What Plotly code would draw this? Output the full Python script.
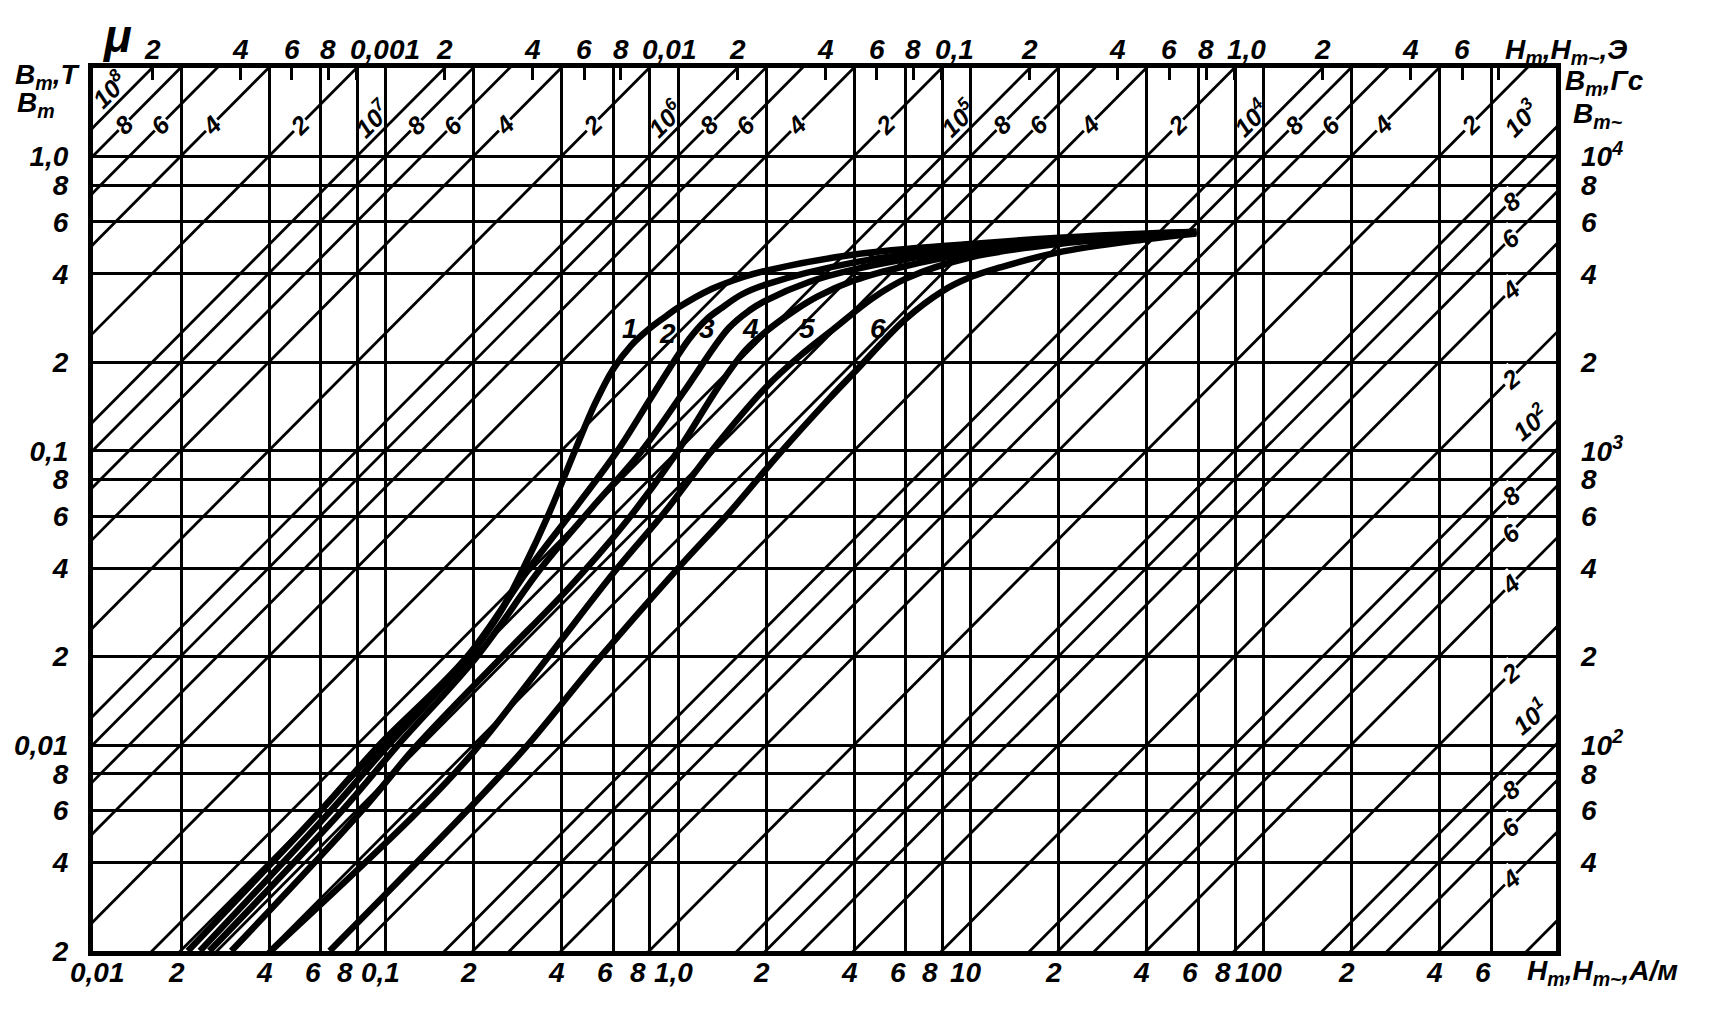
import math
import plotly.graph_objects as go

MU0 = 4e-7 * math.pi          # H/m
OE = 1000.0 / (4 * math.pi)   # A/m per oersted

# ---------------- axis ranges and grid ----------------
H_RANGE = [0.01, 1000]        # A/m
B_RANGE = [0.002, 2]          # T

H_GRID = [0.02, 0.04, 0.06, 0.08, 0.1, 0.2, 0.4, 0.6, 0.8, 1, 2, 4, 6, 8, 10,
          20, 40, 60, 80, 100, 200, 400, 600]
B_LEFT_TICKS = [0.002, 0.004, 0.006, 0.008, 0.01, 0.02, 0.04, 0.06, 0.08, 0.1,
                0.2, 0.4, 0.6, 0.8, 1.0]
B_LEFT_TEXT = ["2", "4", "6", "8", "0,01", "2", "4", "6", "8", "0,1",
               "2", "4", "6", "8", "1,0"]
GS_TICKS = [40, 60, 80, 100, 200, 400, 600, 800, 1000, 2000, 4000, 6000, 8000, 10000]
GS_TEXT = ["4", "6", "8", "10<sup>2</sup>", "2", "4", "6", "8", "10<sup>3</sup>",
           "2", "4", "6", "8", "10<sup>4</sup>"]
H_BOTTOM_TICKS = [0.01, 0.02, 0.04, 0.06, 0.08, 0.1, 0.2, 0.4, 0.6, 0.8, 1, 2, 4, 6, 8,
                  10, 20, 40, 60, 80, 100, 200, 400, 600]
H_BOTTOM_TEXT = ["0,01", "2", "4", "6", "8", "0,1", "2", "4", "6", "8", "1,0",
                 "2", "4", "6", "8", "10", "2", "4", "6", "8", "100", "2", "4", "6"]
OE_TICKS = [2e-4, 4e-4, 6e-4, 8e-4, 1e-3, 2e-3, 4e-3, 6e-3, 8e-3, 1e-2, 2e-2, 4e-2,
            6e-2, 8e-2, 0.1, 0.2, 0.4, 0.6, 0.8, 1, 2, 4, 6, 8]
OE_TEXT = ["2", "4", "6", "8", "0,001", "2", "4", "6", "8", "0,01", "2", "4",
           "6", "8", "0,1", "2", "4", "6", "8", "1,0", "2", "4", "6", ""]

# constant-permeability diagonals
MU_MANTISSAS = [2, 4, 6, 8, 10]
MU_DECADES = [1, 10, 100, 1e3, 1e4, 1e5, 1e6, 1e7]
TOP_MU = [1e8, 8e7, 6e7, 4e7, 2e7, 1e7, 8e6, 6e6, 4e6, 2e6, 1e6, 8e5, 6e5, 4e5, 2e5,
          1e5, 8e4, 6e4, 4e4, 2e4, 1e4, 8e3, 6e3, 4e3, 2e3, 1e3]
TOP_MU_TEXT = ["10<sup>8</sup>", "8", "6", "4", "2", "10<sup>7</sup>", "8", "6", "4", "2",
               "10<sup>6</sup>", "8", "6", "4", "2", "10<sup>5</sup>", "8", "6", "4", "2",
               "10<sup>4</sup>", "8", "6", "4", "2", "10<sup>3</sup>"]
RIGHT_MU = [800, 600, 400, 200, 100, 80, 60, 40, 20, 10, 8, 6, 4]
RIGHT_MU_TEXT = ["8", "6", "4", "2", "10<sup>2</sup>", "8", "6", "4", "2",
                 "10<sup>1</sup>", "8", "6", "4"]

# ---------------- magnetisation curves B_m(H_m) ----------------
H1 = [0.0232, 0.065, 0.102, 0.14, 0.193, 0.245, 0.296, 0.361, 0.447, 0.52, 0.60, 0.69,
      0.80, 0.9, 1.0, 1.3, 1.67, 2.0, 4.0, 10, 20, 40, 59]
B1 = [0.002, 0.006, 0.01, 0.014, 0.02, 0.028, 0.04, 0.061, 0.102, 0.145, 0.19, 0.228,
      0.261, 0.285, 0.307, 0.355, 0.39, 0.41, 0.465, 0.505, 0.53, 0.548, 0.555]
H2 = [0.0211, 0.060, 0.095, 0.19, 0.31, 0.45, 0.62, 0.829, 1.09, 1.25, 1.4, 1.647, 2.0,
      4.0, 10, 20, 40, 59]
B2 = [0.002, 0.006, 0.01, 0.02, 0.04, 0.065, 0.10, 0.158, 0.24, 0.28, 0.305, 0.34,
      0.368, 0.437, 0.495, 0.525, 0.545, 0.555]
H3 = [0.025, 0.071, 0.11, 0.205, 0.34, 0.50, 0.75, 1.05, 1.486, 1.75, 2.0, 2.8, 4.0,
      10, 20, 40, 59]
B3 = [0.002, 0.006, 0.01, 0.02, 0.04, 0.063, 0.10, 0.16, 0.261, 0.30, 0.325, 0.375,
      0.414, 0.485, 0.52, 0.543, 0.555]
H4 = [0.0297, 0.083, 0.128, 0.25, 0.42, 0.65, 0.95, 1.4, 1.7, 2.0, 2.5, 3.0, 4.0, 6.0,
      10, 20, 40, 59]
B4 = [0.002, 0.006, 0.01, 0.02, 0.034, 0.056, 0.093, 0.17, 0.22, 0.255, 0.30, 0.335,
      0.38, 0.425, 0.47, 0.515, 0.54, 0.555]
H5 = [0.0405, 0.13, 0.20, 0.36, 0.62, 0.90, 1.3, 2.0, 2.6, 3.42, 4.61, 6.0, 10, 20,
      40, 59]
B5 = [0.002, 0.006, 0.0095, 0.02, 0.04, 0.062, 0.10, 0.165, 0.21, 0.261, 0.33, 0.385,
      0.455, 0.505, 0.535, 0.553]
H6 = [0.0644, 0.19, 0.30, 0.52, 1.0, 1.5, 2.2, 3.27, 4.0, 5.97, 8.0, 9.9, 12.6, 19.7,
      39.8, 59]
B6 = [0.002, 0.006, 0.0098, 0.019, 0.04, 0.062, 0.097, 0.15, 0.185, 0.28, 0.349, 0.388,
      0.42, 0.472, 0.524, 0.548]
CURVES = [(H1, B1), (H2, B2), (H3, B3), (H4, B4), (H5, B5), (H6, B6)]
CURVE_NAMES = ["1", "2", "3", "4", "5", "6"]
CURVE_LABEL_H = [0.687, 0.919, 1.252, 1.765, 2.756, 4.81]
CURVE_LABEL_B = [0.261, 0.25, 0.261, 0.261, 0.261, 0.261]

# ---------------- styling ----------------
FAMILY = "Liberation Sans, Arial, sans-serif"
FONT = dict(family=FAMILY, size=28, color="black", weight="bold", style="italic")
FONT_MU = dict(family=FAMILY, size=25, color="black", weight="bold", style="italic")
L = math.log10

fig = go.Figure()

# permeability diagonals
xs, ys = [], []
for dec in MU_DECADES:
    for m in MU_MANTISSAS:
        mu = m * dec
        xs += [B_RANGE[0] * 0.5 / (mu * MU0), B_RANGE[1] * 2 / (mu * MU0), None]
        ys += [B_RANGE[0] * 0.5, B_RANGE[1] * 2, None]
fig.add_trace(go.Scatter(x=xs, y=ys, mode="lines", line=dict(color="black", width=2.8),
                         hoverinfo="skip", showlegend=False))

for (h, b), name in zip(CURVES, CURVE_NAMES):
    fig.add_trace(go.Scatter(x=h, y=b, mode="lines", name=name,
                             line=dict(color="black", width=6.5, shape="spline", smoothing=1.0),
                             showlegend=False))

# invisible traces so the secondary axes are drawn
fig.add_trace(go.Scatter(x=[1e-3], y=[0.01], xaxis="x2", yaxis="y", mode="markers",
                         marker=dict(opacity=0), hoverinfo="skip", showlegend=False))
fig.add_trace(go.Scatter(x=[1.0], y=[100], xaxis="x", yaxis="y2", mode="markers",
                         marker=dict(opacity=0), hoverinfo="skip", showlegend=False))

ann = []
# top oersted labels
for v, t in zip(OE_TICKS, OE_TEXT):
    if not t:
        continue
    dec = "," in t
    ann.append(dict(x=L(v), xref="x2", y=1, yref="paper", yshift=19, text=t,
                    showarrow=False, font=FONT, xanchor="left" if dec else "center",
                    xshift=-9 if dec else 0, yanchor="middle"))
# bottom A/m labels
for v, t in zip(H_BOTTOM_TICKS, H_BOTTOM_TEXT):
    shift = -12 if t == "8" else (-8 if t == "6" else -5)
    if t == "0,01":
        shift = 4
    ann.append(dict(x=L(v), xref="x", y=0, yref="paper", yshift=-21, text=t,
                    showarrow=False, font=FONT, xshift=shift, xanchor="center",
                    yanchor="middle"))
# permeability labels along the top
for mu, t in zip(TOP_MU, TOP_MU_TEXT):
    is_dec = t.startswith("10")
    b = 1.35 if is_dec else 1.28
    if mu == 1e8:
        b = 1.7
    h = min(b / (mu * MU0), 900)
    ann.append(dict(x=L(h), y=L(b), xref="x", yref="y", text=t, showarrow=False,
                    font=FONT_MU, textangle=-45, xshift=-22 if is_dec else 0,
                    xanchor="center", yanchor="middle",
                    bgcolor=None if is_dec else "white", borderpad=0))
# permeability labels along the right side
for mu, t in zip(RIGHT_MU, RIGHT_MU_TEXT):
    is_dec = t.startswith("10")
    h = 1000 if is_dec else 700
    b = mu * MU0 * h
    ann.append(dict(x=L(h), y=L(b), xref="x", yref="y", text=t, showarrow=False,
                    font=FONT_MU, textangle=-40, xshift=-26 if is_dec else 0,
                    xanchor="center", yanchor="middle",
                    bgcolor=None if is_dec else "white", borderpad=0))
# curve numbers
for hx, by, t in zip(CURVE_LABEL_H, CURVE_LABEL_B, CURVE_NAMES):
    ann.append(dict(x=L(hx), y=L(by), xref="x", yref="y", text=t, showarrow=False,
                    font=FONT, xanchor="center", yanchor="middle"))
# axis titles
TITLE = dict(showarrow=False, font=FONT, xref="paper", yref="paper",
             xanchor="center", yanchor="middle")
ann += [
    dict(TITLE, x=0, y=1, xshift=24, yshift=32, text="μ", font=dict(FONT, size=46)),
    dict(TITLE, x=0, y=1, xshift=-46, yshift=-8, text="B<sub>m</sub>,T"),
    dict(TITLE, x=0, y=1, xshift=-57, yshift=-36, text="B<sub>m</sub>"),
    dict(TITLE, x=1, y=1, xshift=10, yshift=17, text="H<sub>m</sub>,H<sub>m~</sub>,Э"),
    dict(TITLE, x=1, y=1, xshift=48, yshift=-14, text="B<sub>m</sub>,Гс"),
    dict(TITLE, x=1, y=1, xshift=42, yshift=-47, text="B<sub>m~</sub>"),
    dict(TITLE, x=1, y=0, xshift=46, yshift=-21, text="H<sub>m</sub>,H<sub>m~</sub>,A/м"),
]

# the page body keeps an 8 px margin, so the figure is made 16 px smaller
fig.update_layout(
    width=1694, height=990,
    margin=dict(l=85, r=146, t=60, b=47, autoexpand=False),
    paper_bgcolor="white", plot_bgcolor="white",
    showlegend=False,
    annotations=ann,
    xaxis=dict(type="log", range=[L(H_RANGE[0]), L(H_RANGE[1])], tickvals=H_GRID,
               showticklabels=False, ticks="", showgrid=True, gridcolor="black",
               gridwidth=2.8, showline=True, linecolor="black", linewidth=5,
               mirror=True, zeroline=False, automargin=False),
    yaxis=dict(type="log", range=[L(B_RANGE[0]), L(B_RANGE[1])], tickvals=B_LEFT_TICKS,
               ticktext=B_LEFT_TEXT, tickfont=FONT, ticks="", showgrid=True,
               gridcolor="black", gridwidth=2.8, showline=True, linecolor="black",
               linewidth=5, mirror=True, zeroline=False, ticklabelstandoff=14,
               automargin=False),
    xaxis2=dict(type="log", overlaying="x", side="top", anchor="y",
                range=[L(H_RANGE[0] / OE), L(H_RANGE[1] / OE)], tickvals=OE_TICKS,
                ticks="inside", ticklen=12, tickwidth=2.8, tickcolor="black",
                showticklabels=False, showgrid=False, showline=False, zeroline=False,
                automargin=False),
    yaxis2=dict(type="log", overlaying="y", side="right", anchor="x",
                range=[L(B_RANGE[0] * 1e4), L(B_RANGE[1] * 1e4)], tickvals=GS_TICKS,
                ticktext=GS_TEXT, tickfont=FONT, ticks="", showgrid=False,
                showline=False, zeroline=False, ticklabelstandoff=24, automargin=False),
)

fig.write_html("out.html")
